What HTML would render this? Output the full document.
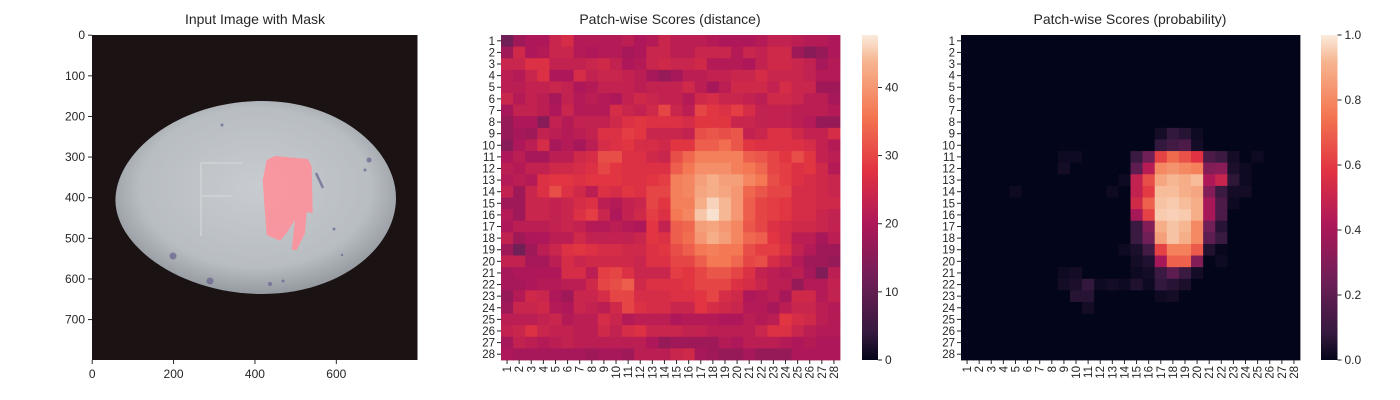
<!DOCTYPE html>
<html><head><meta charset="utf-8">
<style>
html,body{margin:0;padding:0;background:#fff;}
svg{display:block;font-family:"Liberation Sans",Arial,sans-serif;}
.t{font-size:14px;fill:#262626;}
.tk{font-size:12px;fill:#262626;}
.hk{font-size:11.5px;fill:#262626;}
</style></head>
<body>
<svg id="fig" width="1400" height="400" viewBox="0 0 1400 400">
<defs>
<linearGradient id="rocketGrad" x1="0" y1="1" x2="0" y2="0">
<stop offset="0" stop-color="#03051a"/><stop offset="0.083" stop-color="#35193e"/>
<stop offset="0.25" stop-color="#701f57"/><stop offset="0.417" stop-color="#ad1759"/>
<stop offset="0.583" stop-color="#e13342"/><stop offset="0.75" stop-color="#f37651"/>
<stop offset="0.917" stop-color="#f6b48f"/><stop offset="1" stop-color="#faebdd"/>
</linearGradient>
<radialGradient id="eggGrad" cx="0.5" cy="0.45" r="0.55">
<stop offset="0" stop-color="#c8ccd0"/><stop offset="0.75" stop-color="#b8bdc2"/><stop offset="1" stop-color="#959aa0"/>
</radialGradient>
</defs>

<g>
<text class="t" x="255" y="24" text-anchor="middle">Input Image with Mask</text>
<rect x="92" y="35" width="325.5" height="325" fill="#1a1213"/>
<path d="M115.5,197.5 C118,150 180,101 262,101 C340,101 396,150 396,198 C396,248 340,294 262,294 C180,294 113,245 115.5,197.5 Z" fill="url(#eggGrad)"/>
<g fill="none" stroke="#d4d8db" stroke-width="2" opacity="0.6">
<path d="M201,236 L201,163 L242,163"/><path d="M201,196 L232,196"/>
</g>
<g fill="#6a6790" opacity="0.75">
<circle cx="222" cy="125" r="1.5"/><circle cx="173" cy="256" r="3.5"/><circle cx="210" cy="281" r="3.5"/>
<circle cx="270" cy="284" r="2"/><circle cx="283" cy="281" r="1.5"/><circle cx="369" cy="160" r="2.5"/>
<circle cx="365" cy="170" r="1.5"/><circle cx="334" cy="229" r="1.5"/><circle cx="342" cy="255" r="1.2"/>
<path d="M316,173 L323,188" stroke="#6a6790" stroke-width="2.5"/>
</g>
<path d="M266.7,160 L275,156 L308,159 L311.7,166.7 L312.7,213 L306.7,212 L305,233 L296.7,250 L291.7,250 L295,220 L286.7,233 L280,240.7 L266.7,235 L264,200 L262.7,180 Z" fill="#ff8f9a" opacity="0.88"/>
<g id="imgAxes"></g>
</g>

<g>
<text class="t" x="670" y="24" text-anchor="middle">Patch-wise Scores (distance)</text>
<g id="hm1"></g>
<rect x="862" y="35" width="16" height="325" fill="url(#rocketGrad)"/>
<g id="cb1"></g>
</g>

<g>
<text class="t" x="1130" y="24" text-anchor="middle">Patch-wise Scores (probability)</text>
<g id="hm2"></g>
<rect x="1321" y="35" width="16.5" height="325" fill="url(#rocketGrad)"/>
<g id="cb2"></g>
</g>
</svg>

<script>
const imgTicks = [0,100,200,300,400,500,600,700];
const imgXTicks = [0,200,400,600];
const rowLabels = Array.from({length:28},(_,i)=>String(i+1));
const distTicks = [0,10,20,30,40];
const probTicks = [0.0,0.2,0.4,0.6,0.8,1.0];
const distMax = 47.7;
const probMax = 1.0;
const distRows = [
[12,18,20,20,24,26,21,21,21,21,22,20,21,24,22,22,22,21,20,20,20,21,23,23,22,21,21,20],
[18,25,20,21,24,24,21,20,21,21,19,20,24,24,22,22,24,24,24,21,24,23,25,25,18,15,17,20],
[24,24,27,27,23,23,23,24,25,23,20,21,24,25,24,24,25,21,21,21,20,23,25,25,24,23,19,21],
[22,21,24,27,20,20,26,23,24,24,23,22,19,17,19,22,22,23,23,24,24,26,24,24,24,23,21,21],
[22,22,23,23,24,23,20,21,23,23,23,22,23,23,23,25,22,19,22,25,25,25,23,26,24,24,18,18],
[24,21,23,22,19,23,21,22,21,20,23,25,24,23,23,21,25,26,24,24,23,22,25,25,24,22,22,19],
[19,23,23,22,20,24,21,21,21,26,24,23,25,30,24,22,30,28,27,29,26,23,23,23,22,22,22,21],
[17,20,20,15,23,21,23,23,23,25,27,28,27,27,27,26,28,28,28,24,24,23,23,23,22,21,17,17],
[17,19,18,23,22,21,22,23,27,27,29,28,24,24,24,23,31,32,31,32,23,24,27,27,25,23,23,26],
[15,20,22,26,19,21,19,22,26,27,28,26,26,25,28,28,33,33,35,32,28,27,27,27,27,26,23,21],
[20,22,19,19,22,22,25,26,31,31,27,27,25,24,31,34,37,37,37,37,33,32,30,28,31,28,23,22],
[22,21,23,23,25,25,26,27,30,28,27,27,27,27,33,36,39,39,39,37,36,34,30,29,27,28,25,21],
[21,22,21,27,28,28,27,28,28,28,27,27,28,29,37,38,41,43,41,41,38,36,31,29,27,26,25,24],
[23,18,24,27,31,27,25,22,27,26,28,27,30,30,37,38,42,43,42,40,34,32,30,30,26,26,25,24],
[18,18,24,24,23,24,26,27,22,21,23,24,30,28,37,37,43,46,44,40,33,30,29,28,26,26,25,25],
[21,18,24,24,23,24,27,29,24,20,23,25,29,27,36,38,45,47,44,40,33,30,29,28,26,26,24,23],
[20,22,22,22,23,24,23,21,21,22,21,20,28,23,33,34,41,42,40,38,32,30,27,26,25,25,24,23],
[23,18,20,20,22,22,25,23,23,23,23,24,28,27,33,35,40,43,41,38,34,33,28,26,22,22,19,22],
[18,12,18,22,24,27,28,27,26,26,25,25,27,28,31,33,36,37,36,36,31,29,29,27,23,21,18,18],
[23,23,19,19,22,26,24,25,25,25,25,24,27,27,30,30,33,36,36,34,30,31,26,24,21,18,18,17],
[19,20,20,20,20,26,26,22,29,30,27,24,24,24,29,28,30,32,32,30,27,23,22,21,22,19,14,22],
[19,19,20,21,21,22,22,25,30,31,33,25,27,27,27,28,30,30,30,27,26,24,22,22,17,21,21,23],
[17,21,25,24,20,18,24,24,26,30,30,26,26,26,27,27,28,30,26,25,20,21,22,19,25,25,21,23],
[18,24,24,25,21,20,24,23,22,25,30,27,26,26,24,24,28,26,25,24,21,21,19,22,24,24,22,21],
[22,22,22,23,24,21,22,22,26,24,21,22,22,22,20,21,21,21,20,20,22,21,22,28,26,25,22,21],
[23,24,27,24,23,23,22,22,25,23,26,27,24,24,24,23,23,22,22,22,22,24,27,27,24,22,21,21],
[19,23,22,21,22,23,22,22,22,22,22,22,20,17,18,18,18,18,21,20,22,22,22,21,20,21,20,20],
[20,19,19,19,19,19,19,18,19,19,18,22,22,22,24,25,19,18,17,17,19,17,17,17,20,20,20,20]
];
const probCells = [
[9,17,0.03],[9,18,0.08],[9,19,0.06],[9,20,0.02],
[10,17,0.08],[10,18,0.12],[10,19,0.15],[10,20,0.03],
[11,9,0.02],[11,10,0.02],[11,15,0.1],[11,16,0.25],[11,17,0.62],[11,18,0.72],[11,19,0.66],[11,20,0.58],[11,21,0.15],[11,22,0.1],[11,23,0.03],[11,25,0.02],
[12,9,0.03],[12,15,0.2],[12,16,0.45],[12,17,0.8],[12,18,0.83],[12,19,0.8],[12,20,0.78],[12,21,0.3],[12,22,0.32],[12,23,0.04],[12,24,0.02],
[13,14,0.02],[13,15,0.48],[13,16,0.65],[13,17,0.88],[13,18,0.92],[13,19,0.9],[13,20,0.93],[13,21,0.42],[13,22,0.5],[13,23,0.07],[13,24,0.02],
[14,5,0.02],[14,13,0.02],[14,15,0.48],[14,16,0.6],[14,17,0.93],[14,18,0.93],[14,19,0.9],[14,20,0.88],[14,21,0.3],[14,22,0.1],[14,23,0.03],[14,24,0.03],
[15,15,0.53],[15,16,0.7],[15,17,0.94],[15,18,0.95],[15,19,0.93],[15,20,0.9],[15,21,0.4],[15,22,0.15],[15,23,0.02],
[16,15,0.4],[16,16,0.62],[16,17,0.95],[16,18,0.96],[16,19,0.95],[16,20,0.9],[16,21,0.4],[16,22,0.15],
[17,15,0.1],[17,16,0.3],[17,17,0.9],[17,18,0.94],[17,19,0.92],[17,20,0.8],[17,21,0.25],[17,22,0.06],
[18,15,0.1],[18,16,0.25],[18,17,0.86],[18,18,0.94],[18,19,0.9],[18,20,0.8],[18,21,0.2],[18,22,0.1],
[19,14,0.02],[19,15,0.04],[19,16,0.12],[19,17,0.62],[19,18,0.78],[19,19,0.78],[19,20,0.68],[19,21,0.05],[19,22,0.01],
[20,15,0.03],[20,16,0.05],[20,17,0.4],[20,18,0.7],[20,19,0.7],[20,20,0.3],[20,22,0.02],
[21,9,0.02],[21,10,0.03],[21,15,0.02],[21,16,0.03],[21,17,0.1],[21,18,0.2],[21,19,0.1],[21,20,0.03],
[22,9,0.03],[22,10,0.04],[22,11,0.08],[22,12,0.02],[22,13,0.03],[22,14,0.02],[22,15,0.05],[22,16,0.02],[22,17,0.08],[22,18,0.06],[22,19,0.04],
[23,10,0.06],[23,11,0.06],[23,17,0.02],[23,18,0.03],
[24,11,0.03]
];

const NS='http://www.w3.org/2000/svg';
function mk(tag, attrs, parent){const e=document.createElementNS(NS,tag);for(const k in attrs)e.setAttribute(k,attrs[k]);parent.appendChild(e);return e;}
const stops=[[0,[3,5,26]],[0.083,[53,25,62]],[0.25,[112,31,87]],[0.417,[173,23,89]],[0.583,[225,51,66]],[0.75,[243,118,81]],[0.917,[246,180,143]],[1,[250,235,221]]];
function rocket(t){t=Math.max(0,Math.min(1,t));for(let i=1;i<stops.length;i++){if(t<=stops[i][0]){const a=stops[i-1],b=stops[i];const f=(t-a[0])/(b[0]-a[0]);const c=a[1].map((v,j)=>Math.round(v+(b[1][j]-v)*f));return `rgb(${c[0]},${c[1]},${c[2]})`;}}return 'rgb(250,235,221)';}

const imgG=document.getElementById('imgAxes');
const imX=v=>92+v*325.5/800+0.2, imY=v=>35+v*325/800+0.2;
imgTicks.forEach(v=>{
  const l=mk('line',{x1:88,x2:92,y1:imY(v),y2:imY(v),stroke:'#262626','stroke-width':1},imgG);
  
  
  const t=mk('text',{x:85,y:imY(v)+4,'text-anchor':'end',class:'tk'},imgG);t.textContent=v;
  
  
});
imgXTicks.forEach(v=>{
  const l=mk('line',{x1:imX(v),x2:imX(v),y1:360,y2:364,stroke:'#262626','stroke-width':1},imgG);
  
  
  const t=mk('text',{x:imX(v),y:378,'text-anchor':'middle',class:'tk'},imgG);t.textContent=v;
  
  
});

function heatmap(gid,x0,x1,getVal,vmax,name){
  const g=document.getElementById(gid);
  const y0=35,y1=360,n=28,cw=(x1-x0)/n,ch=(y1-y0)/n;
  const xs=c=>x0+c*cw, ys=r=>y0+r*ch;
  for(let r=0;r<n;r++)for(let c=0;c<n;c++){
    const rect=mk('rect',{x:xs(c),y:ys(r),width:cw+0.4,height:ch+0.4,fill:rocket(getVal(r,c)/vmax)},g);
    
    
  }
  rowLabels.forEach((lab,i)=>{
    const yc=ys(i)+ch/2;
    const l=mk('line',{x1:x0-4,x2:x0,y1:yc,y2:yc,stroke:'#262626','stroke-width':1},g);
    
    
    const t=mk('text',{x:x0-6,y:yc+4,'text-anchor':'end',class:'hk'},g);t.textContent=lab;
    
    
    const xc=xs(i)+cw/2;
    const l2=mk('line',{x1:xc,x2:xc,y1:y1,y2:y1+4,stroke:'#262626','stroke-width':1},g);
    
    
    const t2=mk('text',{x:0,y:0,'text-anchor':'end',class:'hk',transform:`translate(${xc+4},${y1+6}) rotate(-90)`},g);t2.textContent=lab;
    
    
  });
}
heatmap('hm1',501,840,(r,c)=>distRows[r][c],distMax,'distance');
const probGrid=Array.from({length:28},()=>new Array(28).fill(0));
probCells.forEach(([r,c,v])=>{probGrid[r-1][c-1]=v;});
heatmap('hm2',961,1300,(r,c)=>probGrid[r][c],probMax,'probability');

function cbTicks(gid,x,ticks,vmax,fmt,name){
  const g=document.getElementById(gid);
  ticks.forEach(v=>{
    const y=360-v/vmax*325;
    const l=mk('line',{x1:x,x2:x+4,y1:y,y2:y,stroke:'#262626','stroke-width':1},g);
    
    
    const t=mk('text',{x:x+7,y:y+4,class:'tk'},g);t.textContent=fmt(v);
    
    
  });
}
cbTicks('cb1',878,distTicks,distMax,v=>String(v),'distance');
cbTicks('cb2',1337.5,probTicks,probMax,v=>v.toFixed(1),'probability');
</script>
</body></html>
